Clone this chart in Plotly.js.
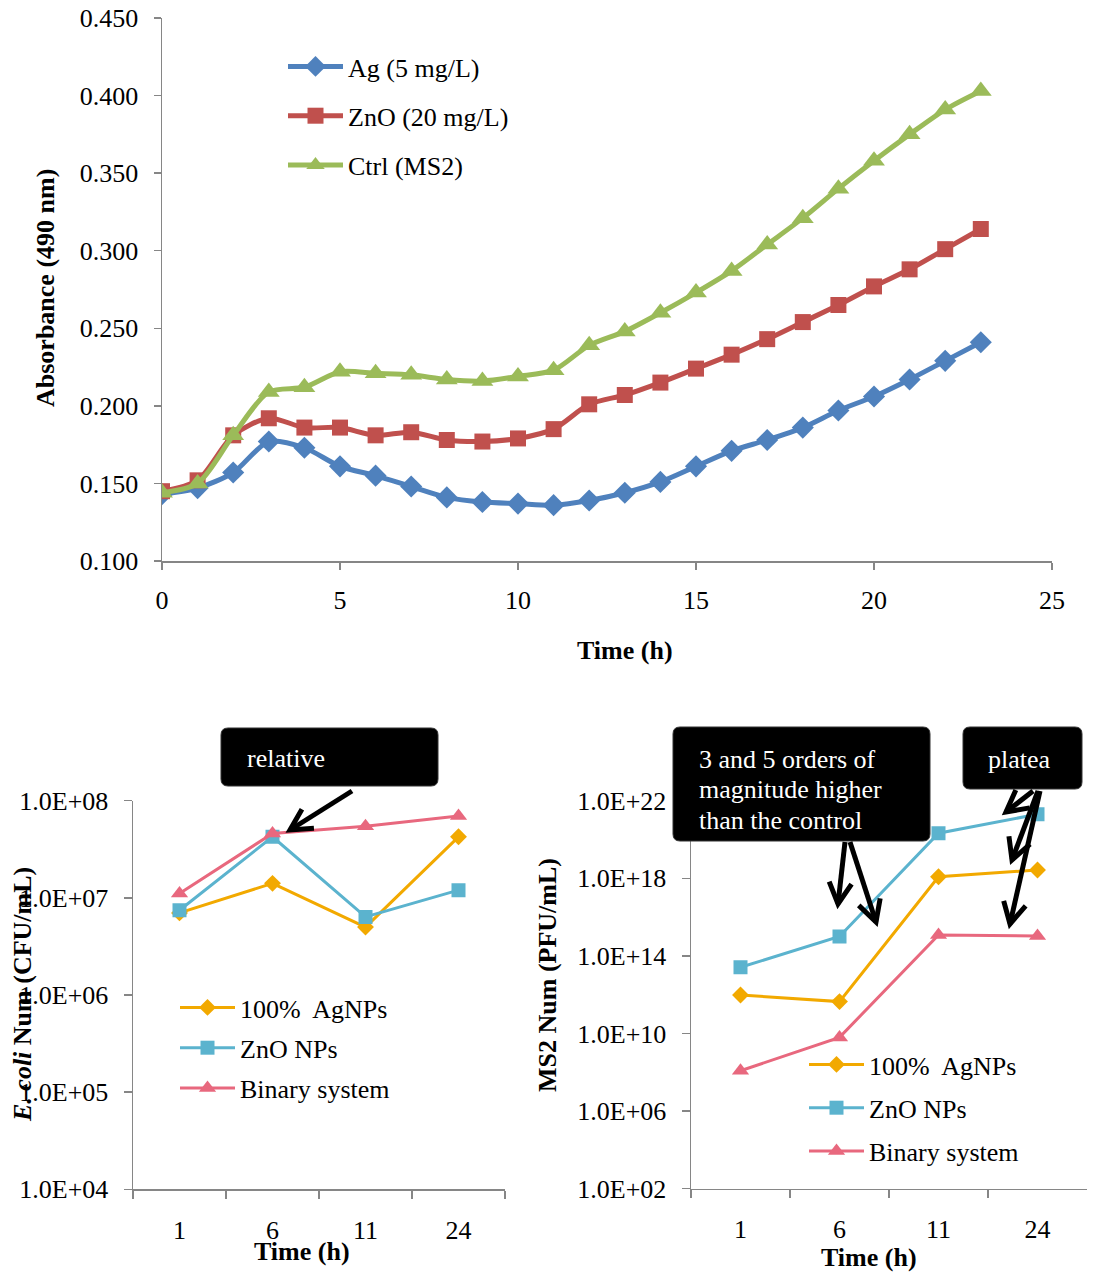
<!DOCTYPE html>
<html><head><meta charset="utf-8">
<script src="https://cdn.plot.ly/plotly-3.0.1.min.js"></script>
<style>html,body{margin:0;padding:0;background:#fff}#chart{width:1095px;height:1274px}</style>
</head><body><div id="chart"></div>
<script>
// ---- Top panel: absorbance vs time ----
const hours = [0,1,2,3,4,5,6,7,8,9,10,11,12,13,14,15,16,17,18,19,20,21,22,23];
const agAbs = [0.143,0.147,0.157,0.177,0.173,0.161,0.155,0.148,0.141,0.138,0.137,0.136,0.139,0.144,0.151,0.161,0.171,0.178,0.186,0.197,0.206,0.217,0.229,0.241];
const znoAbs = [0.145,0.152,0.181,0.192,0.186,0.186,0.181,0.183,0.178,0.177,0.179,0.185,0.201,0.207,0.215,0.224,0.233,0.243,0.254,0.265,0.277,0.288,0.301,0.314];
const ctrlAbs = [0.144,0.150,0.181,0.209,0.212,0.222,0.221,0.220,0.217,0.216,0.219,0.223,0.239,0.248,0.260,0.273,0.287,0.304,0.321,0.340,0.358,0.375,0.391,0.403];
const topNames = ['Ag (5 mg/L)','ZnO (20 mg/L)','Ctrl (MS2)'];

// ---- Bottom panels ----
const timeCats = ['1','6','11','24'];
const bottomNames = ['100%\u00a0 AgNPs','ZnO NPs','Binary system'];
const ecoliAg = [7.0e6,1.41e7,5.0e6,4.25e7];
const ecoliZnO = [7.46e6,4.25e7,6.37e6,1.2e7];
const ecoliBinary = [1.11e7,4.6e7,5.47e7,6.94e7];
const ms2Ag = [9.6e11,4.4e11,1.2e18,2.7e18];
const ms2ZnO = [2.6e13,1.0e15,2.1e20,2.0e21];
const ms2Binary = [1.2e8,6.3e9,1.2e15,1.07e15];
const ecoliTickVals = [1e4,1e5,1e6,1e7,1e8];
const ecoliTickText = ['1.0E+04','1.0E+05','1.0E+06','1.0E+07','1.0E+08'];
const ms2TickVals = [1e2,1e6,1e10,1e14,1e18,1e22];
const ms2TickText = ['1.0E+02','1.0E+06','1.0E+10','1.0E+14','1.0E+18','1.0E+22'];

const W = 1095, H = 1274;
const px = x => x / W;
const py = y => 1 - y / H;
const FONT = 'Liberation Serif, Times New Roman, serif';
const FS = 26;
const AX = '#868686';

const topColors = ['#4F81BD','#C0504D','#9BBB59'];
const topSymbols = ['diamond','square','triangle-up'];
const topSizes = [17,16,19];
const botColors = ['#F2A900','#5BB3CE','#E8687E'];
const botSizes = [13,14,15];

const traces = [];
[agAbs, znoAbs, ctrlAbs].forEach((ys, i) => {
  traces.push({
    x: hours, y: ys, type: 'scatter', mode: 'lines+markers', name: topNames[i],
    line: {color: topColors[i], width: 5, shape: 'spline', smoothing: 0.8},
    marker: {color: topColors[i], symbol: topSymbols[i], size: topSizes[i]},
    xaxis: 'x', yaxis: 'y', legend: 'legend', legendgroup: 't' + i
  });
});
[ecoliAg, ecoliZnO, ecoliBinary].forEach((ys, i) => {
  traces.push({
    x: timeCats, y: ys, type: 'scatter', mode: 'lines+markers', name: bottomNames[i],
    line: {color: botColors[i], width: 3},
    marker: {color: botColors[i], symbol: topSymbols[i], size: botSizes[i]},
    xaxis: 'x2', yaxis: 'y2', legend: 'legend2', legendgroup: 'e' + i
  });
});
[ms2Ag, ms2ZnO, ms2Binary].forEach((ys, i) => {
  traces.push({
    x: timeCats, y: ys, type: 'scatter', mode: 'lines+markers', name: bottomNames[i],
    line: {color: botColors[i], width: 3},
    marker: {color: botColors[i], symbol: topSymbols[i], size: botSizes[i]},
    xaxis: 'x3', yaxis: 'y3', legend: 'legend3', legendgroup: 'm' + i
  });
});

const axBase = {
  showgrid: false, zeroline: false, showline: true, linecolor: AX, linewidth: 1.5,
  ticks: 'outside', tickcolor: AX, tickwidth: 1.5, ticklen: 7,
  tickfont: {family: FONT, size: FS, color: '#000'}, fixedrange: true
};

const layout = {
  width: W, height: H, margin: {l: 0, r: 0, t: 0, b: 0},
  paper_bgcolor: '#fff', plot_bgcolor: 'rgba(0,0,0,0)',
  font: {family: FONT, size: FS, color: '#000'},
  xaxis: Object.assign({}, axBase, {domain: [px(162), px(1052)], range: [0, 25], dtick: 5, tick0: 0, anchor: 'y', ticklabelstandoff: 8}),
  yaxis: Object.assign({}, axBase, {domain: [py(561), py(18)], range: [0.1, 0.45], dtick: 0.05, tick0: 0.1, tickformat: '.3f', anchor: 'x', ticklabelstandoff: 10}),
  xaxis2: Object.assign({}, axBase, {domain: [px(133), px(505)], type: 'category', range: [-0.5, 3.5], tickson: 'boundaries', ticklen: 8, anchor: 'y2', ticklabelstandoff: 17}),
  yaxis2: Object.assign({}, axBase, {domain: [py(1189.3), py(800.7)], type: 'log', range: [4, 8], tickvals: ecoliTickVals, ticktext: ecoliTickText, ticklen: 8, anchor: 'x2', ticklabelstandoff: 10}),
  xaxis3: Object.assign({}, axBase, {domain: [px(691), px(1087)], type: 'category', range: [-0.5, 3.5], tickson: 'boundaries', ticklen: 8, anchor: 'y3', ticklabelstandoff: 17}),
  yaxis3: Object.assign({}, axBase, {domain: [py(1188.7), py(800.7)], type: 'log', range: [2, 22], tickvals: ms2TickVals, ticktext: ms2TickText, ticklen: 8, anchor: 'x3', ticklabelstandoff: 10}),
  legend: {x: px(283), y: py(43), xanchor: 'left', yanchor: 'top', bgcolor: 'rgba(0,0,0,0)', font: {family: FONT, size: FS}, traceorder: 'grouped', tracegroupgap: 12.5, itemwidth: 55},
  legend2: {x: px(175), y: py(984), xanchor: 'left', yanchor: 'top', bgcolor: 'rgba(0,0,0,0)', font: {family: FONT, size: FS}, traceorder: 'grouped', tracegroupgap: 3.5, itemwidth: 55},
  legend3: {x: px(804), y: py(1041), xanchor: 'left', yanchor: 'top', bgcolor: 'rgba(0,0,0,0)', font: {family: FONT, size: FS}, traceorder: 'grouped', tracegroupgap: 6.5, itemwidth: 55},
  shapes: [], annotations: []
};

// axis titles as annotations
function title(text, x, y, angle) {
  layout.annotations.push({text: text, x: px(x), y: py(y), xref: 'paper', yref: 'paper', showarrow: false,
    textangle: angle || 0, xanchor: 'center', yanchor: 'middle', font: {family: FONT, size: FS, color: '#000'}});
}
title('<b>Absorbance (490 nm)</b>', 45, 288, -90);
title('<b>Time (h)</b>', 625, 650);
title('<b><i>E. coli</i> Num (CFU/mL)</b>', 23, 995, -90);
title('<b>Time (h)</b>', 302, 1251);
title('<b>MS2 Num (PFU/mL)</b>', 547, 975, -90);
title('<b>Time (h)</b>', 869, 1257);

// callout boxes (rounded black rectangles)
function box(x0, y0, x1, y1) {
  const r = 7;
  const rx = r / W, ry = r / H;
  const X0 = px(x0), X1 = px(x1), Y0 = py(y0), Y1 = py(y1);
  const p = `M${X0 + rx},${Y0} L${X1 - rx},${Y0} Q${X1},${Y0} ${X1},${Y0 - ry} L${X1},${Y1 + ry} Q${X1},${Y1} ${X1 - rx},${Y1} L${X0 + rx},${Y1} Q${X0},${Y1} ${X0},${Y1 + ry} L${X0},${Y0 - ry} Q${X0},${Y0} ${X0 + rx},${Y0} Z`;
  layout.shapes.push({type: 'path', path: p, xref: 'paper', yref: 'paper', fillcolor: '#000', line: {color: '#333', width: 1}, layer: 'above'});
}
function boxText(text, x, y, anchor) {
  layout.annotations.push({text: text, x: px(x), y: py(y), xref: 'paper', yref: 'paper', showarrow: false,
    xanchor: anchor || 'left', yanchor: 'middle', font: {family: FONT, size: FS, color: '#fff'}});
}
function arrow(tx, ty, hx, hy) {
  layout.shapes.push({type: 'line', xref: 'paper', yref: 'paper', x0: px(tx), y0: py(ty), x1: px(hx), y1: py(hy), line: {color: '#000', width: 5}, layer: 'above'});
  const dx = tx - hx, dy = ty - hy, L = Math.hypot(dx, dy);
  const ux = dx / L, uy = dy / L, arm = 24, a = 28 * Math.PI / 180;
  const pts = [a, -a].map(t => [hx + arm * (ux * Math.cos(t) - uy * Math.sin(t)), hy + arm * (ux * Math.sin(t) + uy * Math.cos(t))]);
  const p = `M${px(pts[0][0])},${py(pts[0][1])} L${px(hx)},${py(hy)} L${px(pts[1][0])},${py(pts[1][1])}`;
  layout.shapes.push({type: 'path', path: p, xref: 'paper', yref: 'paper', line: {color: '#000', width: 5}, layer: 'above'});
}

box(221, 728, 438, 786);
boxText('relative', 245, 758);
arrow(352, 791, 290, 830);

box(673, 727, 930, 841);
boxText('3 and 5 orders of', 697, 759);
boxText('magnitude higher', 697, 790);
boxText('than the control', 697, 820);
arrow(845, 842, 838, 904);
arrow(850, 842, 876, 922);

box(963, 727, 1082, 789);
boxText('platea', 1019, 759, 'center');
arrow(1033, 791, 1006, 812);
arrow(1038, 791, 1012, 860);
arrow(1040, 791, 1010, 924);

Plotly.newPlot('chart', traces, layout, {staticPlot: true});
</script></body></html>
